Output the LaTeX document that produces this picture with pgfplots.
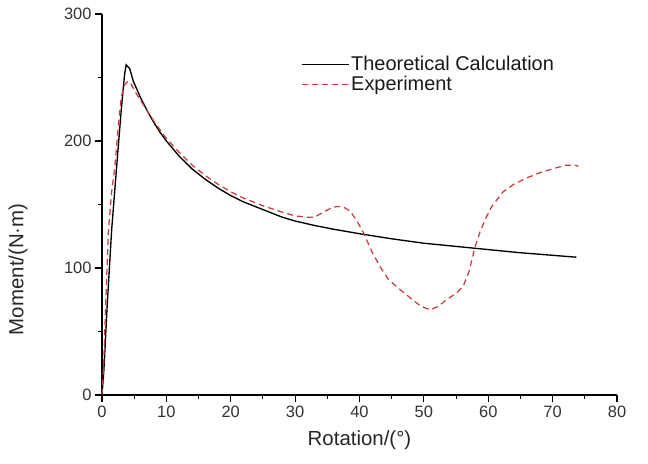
\documentclass[border=0pt]{standalone}
\usepackage{fontspec}
\setmainfont{Liberation Sans}
\usepackage{pgfplots}
\pgfplotsset{compat=1.18}
\definecolor{expred}{RGB}{200,60,60}
\begin{document}
\begin{tikzpicture}
\begin{axis}[
  scale only axis,
  width=515bp, height=381bp,
  xmin=0, xmax=80, ymin=0, ymax=300,
  axis lines=left,
  axis line style={-, line width=1.4pt},
  xtick={0,10,...,80}, ytick={0,100,200,300},
  tick align=outside,
  major tick length=7bp,
  tick style={black, line width=1.2pt},
  clip=false,
  /pgf/number format/assume math mode=true,
  tick label style={font=\fontsize{16.5}{19}\selectfont, text=black!80},
  label style={font=\fontsize{20.5}{24}\selectfont, text=black!85},
  xlabel={Rotation/(°)},
  ylabel={Moment/(N·m)},
  xlabel style={at={(axis description cs:0.5,-0.118)}, anchor=center},
  ylabel style={at={(axis description cs:-0.163,0.33)}, anchor=center},
  legend style={at={(0.38,0.9)}, anchor=north west, draw=none, fill=none,
    font=\fontsize{20}{23}\selectfont, row sep=0bp, text=black!90},
  legend cell align=left,
  legend image code/.code={\draw[#1] (0bp,0bp) -- (47bp,0bp);},
]
\addplot[black, line width=1.35pt] coordinates {
(0,0) (0.3,20) (0.8,70) (1.5,130) (2.2,175) (3,225) (3.5,252) (3.75,260) (4.3,257) (4.87,247)
(6,234) (7,224) (8,215) (9,207) (10,200) (12,188) (14,178) (16,170) (18,163) (20,157)
(22,152) (25,146) (28,140) (30,137) (33,133.5) (36,130.5) (40,127) (45,123) (50,119.5)
(55,117) (60,114.5) (65,112) (70,110) (73.7,108.5)
};
\addlegendentry{Theoretical Calculation}
\addplot[expred, line width=1.25pt, dash pattern=on 6bp off 4bp] coordinates {
(0,0) (0.3,30) (0.6,75) (1,130) (1.5,160) (2,180) (2.5,210) (3,235) (3.5,244) (4,247)
(4.5,245) (5,240) (6,232) (7,224) (8,216) (10,202) (12,191) (14,181) (16,173) (18,166)
(20,160) (22,155) (25,149) (28,144) (30,141) (32,140) (33,140) (34.4,144) (35.5,147)
(36.5,148.5) (37.5,148) (38.5,145) (39.5,138) (40.6,128) (42,112) (43.2,101) (44.5,91)
(46.3,83) (48,76) (49.5,70) (51,67) (52.3,70) (53.5,75) (55,80) (56.1,85.5) (57,97)
(57.9,115.8) (58.7,128) (59.5,138) (60.5,148) (62.3,160) (64,166) (66,171) (68,175)
(70,178) (72,181) (73.5,181) (74,180)
};
\addlegendentry{Experiment}
% axis tick marks (decoration)
\draw[black, line width=1.2pt]
  (axis cs:0,0) -- ++(0,-7bp) (axis cs:10,0) -- ++(0,-7bp) (axis cs:20,0) -- ++(0,-7bp)
  (axis cs:30,0) -- ++(0,-7bp) (axis cs:40,0) -- ++(0,-7bp) (axis cs:50,0) -- ++(0,-7bp)
  (axis cs:60,0) -- ++(0,-7bp) (axis cs:70,0) -- ++(0,-7bp) (axis cs:80,0) -- ++(0,-7bp)
  (axis cs:0,0) -- ++(-7bp,0) (axis cs:0,100) -- ++(-7bp,0) (axis cs:0,200) -- ++(-7bp,0)
  (axis cs:0,300) -- ++(-7bp,0);
\draw[black, line width=1pt]
  (axis cs:5,0) -- ++(0,-4bp) (axis cs:15,0) -- ++(0,-4bp) (axis cs:25,0) -- ++(0,-4bp)
  (axis cs:35,0) -- ++(0,-4bp) (axis cs:45,0) -- ++(0,-4bp) (axis cs:55,0) -- ++(0,-4bp)
  (axis cs:65,0) -- ++(0,-4bp) (axis cs:75,0) -- ++(0,-4bp)
  (axis cs:0,50) -- ++(-4bp,0) (axis cs:0,150) -- ++(-4bp,0) (axis cs:0,250) -- ++(-4bp,0);
\coordinate (bl) at (rel axis cs:0,0);
\coordinate (tr) at (rel axis cs:1,1);
\end{axis}
\path[use as bounding box] ([xshift=-102bp,yshift=-69bp]bl) rectangle ([xshift=31bp,yshift=14bp]tr);
\end{tikzpicture}
\end{document}
